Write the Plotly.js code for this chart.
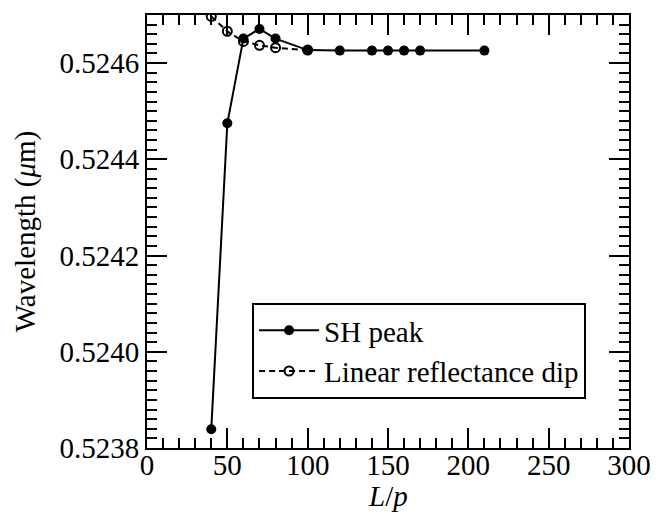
<!DOCTYPE html>
<html>
<head>
<meta charset="utf-8">
<script src="https://cdn.plot.ly/plotly-3.0.1.min.js"></script>
<style>html,body{margin:0;padding:0;background:#fff;}#chart{width:659px;height:519px;}</style>
</head>
<body>
<div id="chart"></div>
<script>
var shX = [40, 50, 60, 70, 80, 100, 120, 140, 150, 160, 170, 210];
var shY = [0.523839, 0.524475, 0.524651, 0.524671, 0.524651, 0.524627, 0.524626, 0.524626, 0.524626, 0.524626, 0.524626, 0.524626];
var linX = [40, 50, 60, 70, 80, 100];
var linY = [0.524697, 0.524666, 0.524645, 0.524637, 0.524632, 0.524627];
var xTicks = [0, 50, 100, 150, 200, 250, 300];
var yTicks = [0.5238, 0.5240, 0.5242, 0.5244, 0.5246];
var yTickText = ['0.5238', '0.5240', '0.5242', '0.5244', '0.5246'];
var xTitle = '<i>L</i>/<i>p</i>';
var yTitle = 'Wavelength (<i>μ</i>m)';

var FS = 29;
function mkFont(s) { return {family: '"Liberation Serif", "Times New Roman", Times, serif', color: '#000', size: s || FS}; }
var traces = [
  {x: linX, y: linY, name: 'Linear reflectance dip', mode: 'lines+markers',
   line: {color: '#000', width: 2, dash: '6px,4px'},
   marker: {symbol: 'circle-open', size: 9, color: '#000', line: {width: 2, color: '#000'}}},
  {x: shX, y: shY, name: 'SH peak', mode: 'lines+markers',
   line: {color: '#000', width: 2},
   marker: {symbol: 'circle', size: 10, color: '#000'}}
];
function axisCommon() {
  return {showline: true, linecolor: '#000', linewidth: 2, mirror: 'allticks',
    ticks: 'inside', ticklen: 20, tickwidth: 2, tickcolor: '#000', showgrid: false, zeroline: false,
    tickfont: mkFont(), automargin: false};
}
var layout = {
  width: 659, height: 519,
  margin: {l: 147, r: 30, t: 15, b: 71},
  paper_bgcolor: '#fff', plot_bgcolor: '#fff',
  font: mkFont(),
  showlegend: true,
  legend: {x: 0.218, y: 0.335, xanchor: 'left', yanchor: 'top', bordercolor: '#000', borderwidth: 2,
    bgcolor: '#fff', font: mkFont(), traceorder: 'reversed', itemwidth: 60,
    tracegroupgap: 0},
  xaxis: Object.assign(axisCommon(), {range: [0, 300], tickvals: xTicks, ticktext: xTicks.map(String),
    ticklabelstandoff: -10,
    minor: {dtick: 10, tick0: 0, ticks: 'inside', ticklen: 10, tickwidth: 2, tickcolor: '#000', showgrid: false}}),
  yaxis: Object.assign(axisCommon(), {range: [0.5238, 0.5247], tickvals: yTicks, ticktext: yTickText,
    minor: {dtick: 0.00002, tick0: 0.5238, ticks: 'inside', ticklen: 10, tickwidth: 2, tickcolor: '#000', showgrid: false},
    title: {text: yTitle, font: mkFont(), standoff: 15}}),
  annotations: [
    {text: xTitle, xref: 'paper', yref: 'paper', x: 0.5, y: -0.112, xanchor: 'center', yanchor: 'middle',
     showarrow: false, font: mkFont()}
  ]
};
Plotly.newPlot('chart', traces, layout, {displayModeBar: false, staticPlot: true});
</script>
</body>
</html>
